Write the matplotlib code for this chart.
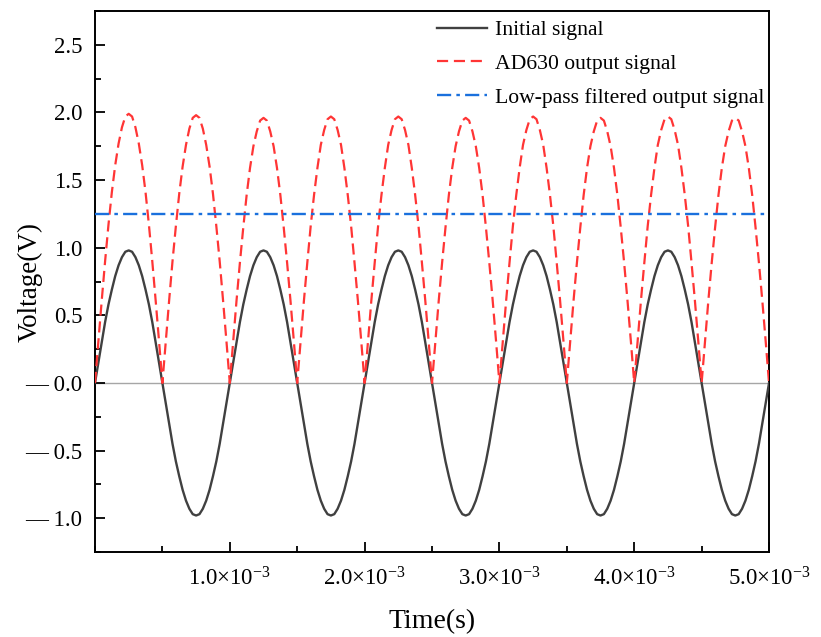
import numpy as np
import matplotlib
matplotlib.use("Agg")
import matplotlib.pyplot as plt
from matplotlib.ticker import FixedLocator, FixedFormatter, MultipleLocator

plt.rcParams['font.family'] = ['Liberation Serif', 'DejaVu Serif']
plt.rcParams['mathtext.fontset'] = 'custom'
plt.rcParams['mathtext.rm'] = 'Liberation Serif'
plt.rcParams['mathtext.it'] = 'Liberation Serif:italic'

# sample times (s), 0 .. 5 ms every 0.025 ms
t = np.linspace(0, 5e-3, 201)

# initial signal (V), one row per half period
initial_signal = [
    0.00, 0.15, 0.30, 0.45, 0.58, 0.69, 0.79, 0.87, 0.93, 0.97, 0.98, 0.97, 0.93, 0.87, 0.79, 0.69, 0.58, 0.45, 0.30, 0.15,
    0.00, -0.15, -0.30, -0.45, -0.58, -0.69, -0.79, -0.87, -0.93, -0.97, -0.98, -0.97, -0.93, -0.87, -0.79, -0.69, -0.58, -0.45, -0.30, -0.15,
    0.00, 0.15, 0.30, 0.45, 0.58, 0.69, 0.79, 0.87, 0.93, 0.97, 0.98, 0.97, 0.93, 0.87, 0.79, 0.69, 0.58, 0.45, 0.30, 0.15,
    0.00, -0.15, -0.30, -0.45, -0.58, -0.69, -0.79, -0.87, -0.93, -0.97, -0.98, -0.97, -0.93, -0.87, -0.79, -0.69, -0.58, -0.45, -0.30, -0.15,
    0.00, 0.15, 0.30, 0.45, 0.58, 0.69, 0.79, 0.87, 0.93, 0.97, 0.98, 0.97, 0.93, 0.87, 0.79, 0.69, 0.58, 0.45, 0.30, 0.15,
    0.00, -0.15, -0.30, -0.45, -0.58, -0.69, -0.79, -0.87, -0.93, -0.97, -0.98, -0.97, -0.93, -0.87, -0.79, -0.69, -0.58, -0.45, -0.30, -0.15,
    0.00, 0.15, 0.30, 0.45, 0.58, 0.69, 0.79, 0.87, 0.93, 0.97, 0.98, 0.97, 0.93, 0.87, 0.79, 0.69, 0.58, 0.45, 0.30, 0.15,
    0.00, -0.15, -0.30, -0.45, -0.58, -0.69, -0.79, -0.87, -0.93, -0.97, -0.98, -0.97, -0.93, -0.87, -0.79, -0.69, -0.58, -0.45, -0.30, -0.15,
    0.00, 0.15, 0.30, 0.45, 0.58, 0.69, 0.79, 0.87, 0.93, 0.97, 0.98, 0.97, 0.93, 0.87, 0.79, 0.69, 0.58, 0.45, 0.30, 0.15,
    0.00, -0.15, -0.30, -0.45, -0.58, -0.69, -0.79, -0.87, -0.93, -0.97, -0.98, -0.97, -0.93, -0.87, -0.79, -0.69, -0.58, -0.45, -0.30, -0.15,
    0.00,
]

# AD630 output (V)
ad630_output = [
    0.00, 0.31, 0.61, 0.90, 1.17, 1.41, 1.61, 1.77, 1.89, 1.97, 1.99, 1.97, 1.89, 1.77, 1.61, 1.41, 1.17, 0.90, 0.61, 0.31,
    0.00, 0.31, 0.61, 0.90, 1.16, 1.40, 1.60, 1.76, 1.88, 1.96, 1.98, 1.96, 1.88, 1.76, 1.60, 1.40, 1.16, 0.90, 0.61, 0.31,
    0.00, 0.31, 0.61, 0.89, 1.15, 1.39, 1.59, 1.75, 1.86, 1.94, 1.96, 1.94, 1.86, 1.75, 1.59, 1.39, 1.15, 0.89, 0.61, 0.31,
    0.00, 0.31, 0.61, 0.89, 1.16, 1.39, 1.59, 1.76, 1.87, 1.95, 1.97, 1.95, 1.87, 1.76, 1.59, 1.39, 1.16, 0.89, 0.61, 0.31,
    0.00, 0.31, 0.61, 0.89, 1.16, 1.39, 1.59, 1.76, 1.87, 1.95, 1.97, 1.95, 1.87, 1.76, 1.59, 1.39, 1.16, 0.89, 0.61, 0.31,
    0.00, 0.31, 0.61, 0.89, 1.15, 1.39, 1.59, 1.75, 1.86, 1.94, 1.96, 1.94, 1.86, 1.75, 1.59, 1.39, 1.15, 0.89, 0.61, 0.31,
    0.00, 0.31, 0.61, 0.89, 1.16, 1.39, 1.59, 1.76, 1.87, 1.95, 1.97, 1.95, 1.87, 1.76, 1.59, 1.39, 1.16, 0.89, 0.61, 0.31,
    0.00, 0.31, 0.61, 0.89, 1.15, 1.39, 1.59, 1.75, 1.86, 1.94, 1.96, 1.94, 1.86, 1.75, 1.59, 1.39, 1.15, 0.89, 0.61, 0.31,
    0.00, 0.31, 0.61, 0.89, 1.16, 1.39, 1.59, 1.76, 1.87, 1.95, 1.97, 1.95, 1.87, 1.76, 1.59, 1.39, 1.16, 0.89, 0.61, 0.31,
    0.00, 0.31, 0.61, 0.89, 1.15, 1.39, 1.59, 1.75, 1.86, 1.94, 1.96, 1.94, 1.86, 1.75, 1.59, 1.39, 1.15, 0.89, 0.61, 0.31,
    0.00,
]

# low-pass filtered output (V)
lp_time = [0.0, 5e-3]
lp_output = [1.25, 1.25]

y_ticks = [-1.0, -0.5, 0.0, 0.5, 1.0, 1.5, 2.0, 2.5]
y_ticklabels = ["\u2014 1.0", "\u2014 0.5", "\u2014 0.0", "0.5", "1.0", "1.5", "2.0", "2.5"]
x_ticks = [1e-3, 2e-3, 3e-3, 4e-3, 5e-3]
x_ticklabels = ["1.0\u00d710$^{-3}$", "2.0\u00d710$^{-3}$", "3.0\u00d710$^{-3}$",
                "4.0\u00d710$^{-3}$", "5.0\u00d710$^{-3}$"]

fig = plt.figure(figsize=(8.21, 6.37), dpi=100)
ax = fig.add_axes([0.1157, 0.1334, 0.821, 0.8493])

ax.axhline(0, color='#a6a6a6', lw=1.0, zorder=1)
ax.plot(t, initial_signal, color='#404040', lw=1.7, label='Initial signal', zorder=3)
ax.plot(t, ad630_output, color='#ff3535', lw=1.6, ls=(0, (5, 2.6)), label='AD630 output signal', zorder=4)
ax.plot(lp_time, lp_output, color='#1a70dd', lw=1.7, ls=(0, (6, 2.2, 1.5, 2.2)),
        label='Low-pass filtered output signal', zorder=5)

ax.set_xlim(0, 5e-3)
ax.set_ylim(-1.25, 2.75)

ax.yaxis.set_major_locator(FixedLocator(y_ticks))
ax.yaxis.set_major_formatter(FixedFormatter(y_ticklabels))
ax.yaxis.set_minor_locator(MultipleLocator(0.25))
ax.xaxis.set_major_locator(FixedLocator(x_ticks))
ax.xaxis.set_major_formatter(FixedFormatter(x_ticklabels))
ax.xaxis.set_minor_locator(MultipleLocator(0.5e-3))

ax.tick_params(which='both', direction='in', width=1.3, labelsize=16.5)
ax.tick_params(which='major', length=7)
ax.tick_params(axis='y', which='major', pad=9)
ax.tick_params(axis='x', which='major', pad=11)
ax.tick_params(which='minor', length=4)
for s in ax.spines.values():
    s.set_linewidth(1.4)

ax.set_xlabel('Time(s)', fontsize=20)
ax.set_ylabel('Voltage(V)', fontsize=19.5)
ax.xaxis.set_label_coords(0.5, -0.105)
ax.yaxis.set_label_coords(-0.078, 0.5)

ax.legend(loc='upper right', frameon=False, fontsize=15.6, handlelength=2.3,
          labelspacing=0.62, borderaxespad=0.0, borderpad=0.3, handletextpad=0.35,
          bbox_to_anchor=(1.002, 0.995))

fig.savefig('out.png', dpi=100)
